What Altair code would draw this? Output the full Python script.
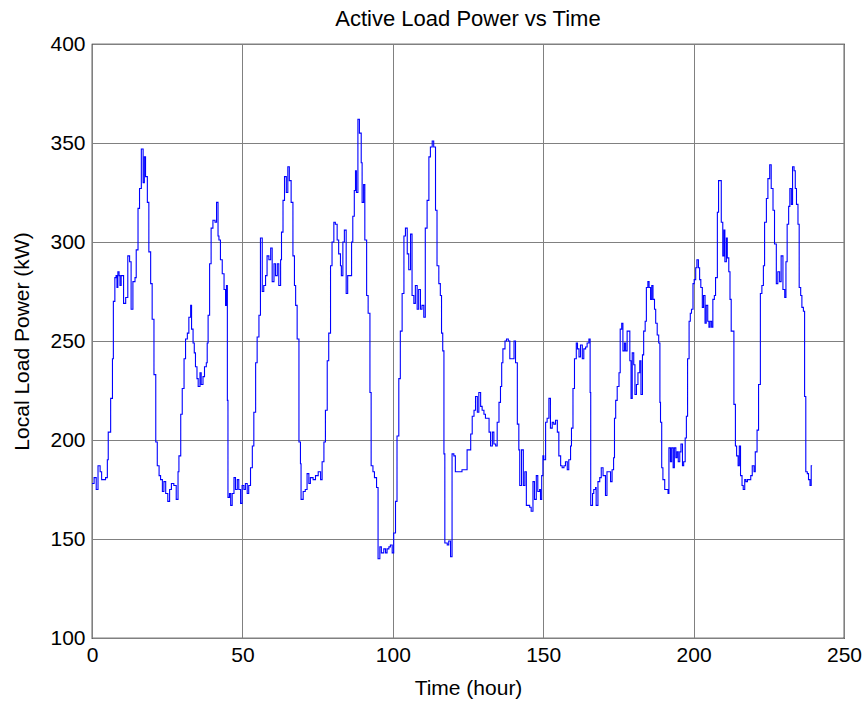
import altair as alt
import pandas as pd

hours = [
    0, 0.7, 1.4, 2.0, 2.7, 3.2, 4.5, 5.1, 5.4, 6.2, 6.8, 7.1, 7.6, 8.0, 8.3, 8.6, 9.0, 9.3, 9.7,
    10.5, 11.2, 11.9, 12.5, 13.0, 13.6, 14.3, 14.7, 15.3, 15.8, 16.4, 17.0, 17.4, 17.8, 18.4, 18.9,
    19.5, 20.0, 20.6, 21.2, 21.7, 22.3, 22.8, 23.4, 23.9, 24.5, 25.2, 25.8, 26.4, 27.2, 28.0, 28.6,
    28.9, 29.5, 30.0, 30.6, 31.1, 31.7, 32.2, 32.8, 33.1, 33.6, 34.0, 34.4, 34.9, 35.3, 35.9, 36.3,
    36.9, 37.4, 38.0, 38.3, 38.6, 39.1, 39.6, 40.2, 40.9, 41.4, 41.9, 42.2, 42.7, 43.3, 43.9, 44.4,
    44.7, 45.0, 45.2, 45.7, 46.1, 46.6, 47.2, 47.7, 48.3, 48.8, 49.4, 49.9, 50.5, 51.0, 51.6, 52.1,
    52.7, 53.3, 53.8, 54.4, 54.9, 55.5, 56.0, 56.6, 57.1, 57.7, 58.2, 58.8, 59.4, 59.9, 60.5, 61.0,
    61.6, 62.1, 62.7, 63.0, 63.5, 64.0, 64.6, 65.1, 65.6, 66.2, 66.8, 67.3, 67.7, 68.2, 68.8, 69.3,
    69.5, 70.2, 70.9, 71.5, 72.1, 72.6, 73.5, 74.3, 75.2, 76.0, 76.5, 77.1, 77.6, 78.2, 78.7, 79.3,
    79.8, 80.4, 80.9, 81.5, 82.0, 82.6, 82.9, 83.4, 83.9, 84.5, 85.0, 86.3, 86.7, 87.2, 87.6, 87.9,
    88.4, 88.9, 89.5, 89.8, 90.3, 90.7, 91.3, 91.8, 92.4, 92.8, 93.4, 93.9, 94.6, 95.1, 95.7, 96.2,
    97.0, 97.6, 98.1, 98.7, 99.2, 99.8, 100.3, 100.9, 101.4, 102.0, 102.5, 103.1, 103.7, 104.2,
    104.8, 105.3, 105.9, 106.4, 107.0, 107.5, 108.1, 108.6, 109.2, 109.7, 110.3, 110.8, 111.4,
    112.0, 112.5, 113.1, 113.6, 114.2, 114.7, 115.3, 115.8, 116.2, 116.6, 117.0, 117.3, 118.1,
    118.6, 119.2, 119.7, 120.3, 120.8, 121.4, 122.2, 123.0, 123.9, 124.7, 125.9, 126.4, 127.0,
    127.5, 128.1, 128.6, 129.2, 129.7, 130.3, 130.8, 131.4, 132.0, 132.5, 133.1, 133.6, 134.2,
    134.7, 135.3, 135.8, 136.2, 136.6, 137.3, 137.8, 138.4, 138.9, 139.7, 140.3, 140.8, 141.4,
    141.9, 142.2, 142.8, 143.4, 143.9, 144.4, 145.5, 146.0, 146.6, 147.1, 147.7, 148.2, 148.8,
    149.1, 149.5, 149.9, 150.2, 150.8, 151.3, 151.9, 152.4, 153.0, 153.5, 154.1, 154.7, 155.2,
    155.8, 156.3, 156.9, 157.4, 158.0, 158.5, 159.1, 159.4, 159.9, 160.4, 161.0, 161.4, 161.9,
    162.4, 163.0, 163.5, 164.1, 164.6, 165.2, 165.6, 165.8, 166.4, 166.8, 167.4, 167.6, 168.2,
    168.8, 169.3, 169.9, 170.4, 170.7, 171.2, 172.4, 172.9, 173.4, 173.7, 174.1, 174.6, 175.2,
    175.6, 176.1, 176.5, 177.0, 177.4, 177.9, 178.3, 178.8, 179.2, 179.6, 180.1, 180.5, 181.0,
    181.5, 182.1, 182.5, 183.0, 183.4, 183.9, 184.3, 184.8, 185.2, 185.7, 186.1, 186.5, 187.0,
    187.4, 187.9, 188.4, 188.8, 189.0, 189.4, 189.8, 190.4, 191.5, 191.8, 192.3, 192.7, 193.2,
    193.6, 194.1, 194.5, 194.9, 195.4, 195.8, 196.3, 196.7, 197.2, 197.6, 198.0, 198.5, 198.9,
    199.3, 199.8, 200.2, 200.7, 201.1, 201.6, 202.0, 202.4, 202.9, 203.3, 203.8, 204.2, 204.7,
    205.1, 205.5, 206.0, 206.4, 206.9, 207.3, 207.9, 208.3, 209.2, 209.7, 210.1, 210.4, 210.9,
    211.2, 211.7, 212.1, 212.5, 213.4, 213.9, 214.3, 214.8, 215.2, 215.6, 216.1, 216.5, 217.0,
    217.4, 217.9, 219.0, 219.5, 220.1, 220.5, 221.1, 221.6, 222.2, 222.7, 223.2, 223.6, 224.2,
    224.7, 225.3, 225.8, 226.4, 226.9, 227.5, 228.0, 228.6, 229.1, 229.7, 230.3, 230.7, 231.1,
    231.6, 232.0, 232.5, 232.9, 233.4, 233.8, 234.2, 234.7, 235.1, 235.6, 236.0, 236.5, 236.9,
    237.3, 237.8, 238.2, 238.7, 239.1, 239.4,
]

load_kw = [
    178, 181, 175, 187, 184, 180, 181, 190, 204, 221, 241, 270, 282, 283, 277, 285, 283, 278, 283,
    269, 272, 293, 290, 266, 280, 282, 296, 317, 327, 347, 330, 343, 333, 320, 295,
    279, 261, 233, 199, 187, 182, 180, 174, 179, 173, 169, 175, 178, 177, 170, 184,
    192, 213, 226, 241, 251, 254, 262, 268, 256, 249, 244, 237, 231, 227, 234, 228,
    232, 237, 239, 249, 263, 289, 307, 311, 310, 320, 303, 301, 291, 284, 276, 268,
    278, 220, 171, 173, 167, 173, 181, 175, 180, 175, 168, 177, 175, 178, 173, 177,
    186, 197, 214, 239, 252, 263, 302, 275, 278, 283, 293, 291, 297, 280, 289, 283,
    289, 278, 291, 305, 321, 333, 325, 338, 331, 320, 293, 278, 268, 251, 199, 188,
    170, 174, 175, 183, 178, 181, 180, 182, 184, 180, 189, 199, 215, 240, 254, 288,
    300, 310, 309, 301, 294, 288, 283, 300, 306, 274, 283, 300, 313, 326, 336, 325,
    362, 355, 340, 320, 329, 301, 273, 264, 224, 187, 184, 181, 176, 140, 146, 143,
    145, 143, 145, 146, 147, 143, 153, 169, 202, 231, 255, 274, 303, 307,
    294, 286, 304, 273, 269, 278, 266, 276, 266, 268, 262, 307, 321,
    343, 348, 351, 348, 316, 288, 279, 273, 254, 245, 193, 148, 147,
    149, 141, 193, 192, 184, 184, 184, 185, 185, 195, 203, 212, 215,
    222, 214, 224, 217, 215, 213, 211, 211, 204, 197, 204, 198, 197,
    209, 219, 227, 239, 246, 250, 251, 250, 241, 241, 250, 239, 208,
    195, 177, 195, 177, 184, 167, 166, 164, 179, 170, 182, 174, 175,
    170, 182, 192, 190, 209, 211, 221, 206, 209, 208, 210, 204, 192,
    187, 186, 187, 189, 185, 190, 197, 206, 226, 241, 249, 246, 242,
    248, 241, 246, 247, 249, 251, 224, 167, 173, 175, 176, 167, 179,
    181, 186, 182, 182, 172, 184, 179, 185, 191, 211, 220, 227, 234,
    256, 259, 245, 249, 245, 255, 255, 240, 221, 244, 238, 223, 228,
    234, 240, 223, 243, 255, 260, 277, 280, 277, 271, 278, 271, 266,
    259, 253, 249, 219, 209, 186, 180, 175, 173, 196, 189, 196, 186,
    196, 191, 194, 189, 194, 198, 187, 189, 201, 212, 241, 260, 264,
    266, 279, 281, 287, 291, 287, 281, 277, 267, 273, 259, 268, 260,
    257, 260, 257, 271, 273, 282, 315, 331, 310, 293, 306, 290, 302,
    292, 285, 271, 255, 218, 197, 192, 187, 197, 182, 177, 175, 180,
    179, 180, 182, 187, 184, 194, 205, 228, 274, 278, 288, 310, 322,
    332, 339, 327, 316, 299, 279, 285, 280, 293, 276, 272, 290, 309,
    318, 327, 319, 338, 336, 327, 319, 309, 277, 273, 267, 265, 222,
    184, 183, 180, 177, 187, 187,
]

x_ticks = [0, 50, 100, 150, 200, 250]
y_ticks = [100, 150, 200, 250, 300, 350, 400]

df = pd.DataFrame({"hour": hours, "load": load_kw})

FONT = "Liberation Sans"

chart = (
    alt.Chart(df)
    .mark_line(color="#0000ff", strokeWidth=1.1, interpolate="step-after")
    .encode(
        x=alt.X(
            "hour:Q",
            scale=alt.Scale(domain=[0, 250], nice=False, zero=False),
            axis=alt.Axis(values=x_ticks, title="Time (hour)", labelFlush=False,
                          labelPadding=6, titlePadding=12),
        ),
        y=alt.Y(
            "load:Q",
            scale=alt.Scale(domain=[100, 400], nice=False, zero=False),
            axis=alt.Axis(values=y_ticks, title="Local Load Power (kW)", labelFlush=False,
                          labelPadding=7, titlePadding=17),
        ),
    )
    .properties(
        width=752,
        height=594,
        title=alt.TitleParams("Active Load Power vs Time", fontSize=22, fontWeight="normal",
                              font=FONT, color="black", offset=2),
        autosize=alt.AutoSizeParams(type="none"),
        padding={"left": 92, "top": 44, "right": 23, "bottom": 64},
    )
    .configure_view(stroke="black", strokeWidth=1.2)
    .configure_axis(
        grid=True,
        gridColor="#808080",
        gridOpacity=1,
        gridWidth=1,
        ticks=False,
        domain=False,
        labelFont=FONT,
        labelFontSize=21,
        labelColor="black",
        titleFont=FONT,
        titleFontSize=21,
        titleFontWeight="normal",
        titleColor="black",
    )
)

chart.save("out.html", embed_options={"renderer": "svg", "actions": False})
